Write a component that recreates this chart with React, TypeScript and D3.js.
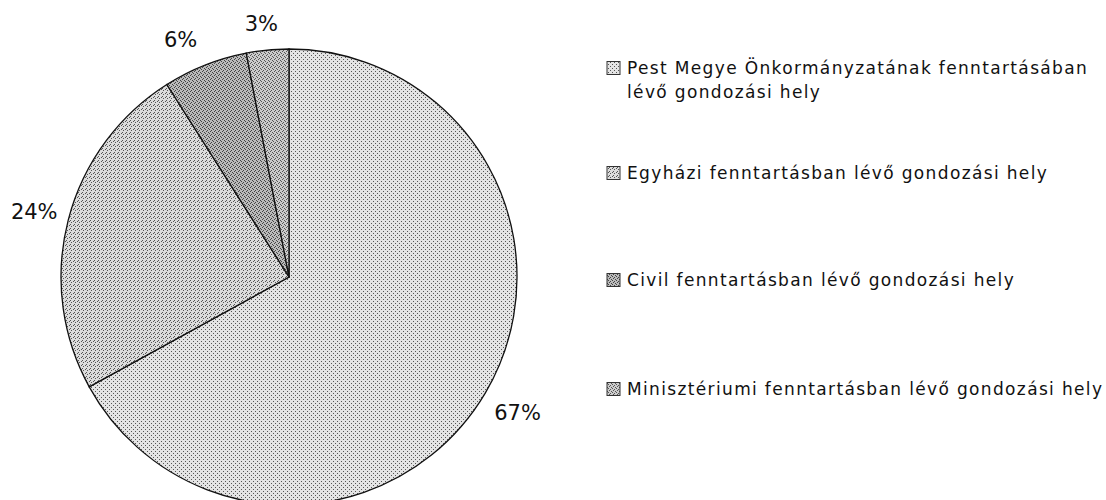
import React from 'react';
import * as d3 from 'd3';

// legend text, one row per line
const categories = [
  ['Pest Megye Önkormányzatának fenntartásában', 'lévő gondozási hely'],
  ['Egyházi fenntartásban lévő gondozási hely'],
  ['Civil fenntartásban lévő gondozási hely'],
  ['Minisztériumi fenntartásban lévő gondozási hely'],
];
const values = [67, 24, 6, 3];
const labels = ['67%', '24%', '6%', '3%'];

// dithered grey fills, a bit like the scanned original
const tiles = [
  { base: '#e4e4e4', dot: '#555', dots: [[0, 0], [2, 2]] },
  { base: '#dcdcdc', dot: '#555', dots: [[0, 0], [2, 1], [1, 3]] },
  { base: '#bbbbbb', dot: '#444', dots: [[0, 0], [2, 1], [1, 2], [3, 3]] },
  { base: '#cccccc', dot: '#555', dots: [[0, 0], [2, 1], [1, 2], [3, 3]] },
];

const W = 1106;
const H = 500;
const cx = 289;
const cy = 277;
const r = 228;
const labelR = 262;
// small shifts so the top labels sit like the original's
const nudge = [[3, 3], [-1, 0], [-12, 7], [-3, 8]];
const legendX = 607;
const legendY = [68, 173, 280, 389];

export default function App() {
  const pie = d3.pie<number>().sort(null).value(d => d);
  const arcs = pie(values);
  const arc = d3.arc<d3.PieArcDatum<number>>().innerRadius(0).outerRadius(r);
  const labelArc = d3.arc<d3.PieArcDatum<number>>().innerRadius(labelR).outerRadius(labelR);

  return (
    <svg width={W} height={H} style={{ position: 'absolute', left: 0, top: 0, background: '#fff' }}
      fontFamily="'DejaVu Sans', Verdana, sans-serif">
      <defs>
        {tiles.map((t, i) => (
          <pattern key={i} id={`fill-${i}`} width={4} height={4} patternUnits="userSpaceOnUse">
            <rect width={4} height={4} fill={t.base} />
            {t.dots.map(([x, y], j) => (
              <rect key={j} x={x} y={y} width={1} height={1} fill={t.dot} />
            ))}
          </pattern>
        ))}
      </defs>

      <g transform={`translate(${cx},${cy})`}>
        {arcs.map((a, i) => (
          <path key={i} d={arc(a) || ''} fill={`url(#fill-${i})`} stroke="#111" strokeWidth={1.3} />
        ))}
        {arcs.map((a, i) => {
          const [x, y] = labelArc.centroid(a);
          return (
            <text key={i} x={x + nudge[i][0]} y={y + nudge[i][1]} textAnchor="middle"
              dominantBaseline="central" fontSize={21} fill="#111">
              {labels[i]}
            </text>
          );
        })}
      </g>

      <g>
        {categories.map((lines, i) => (
          <g key={i}>
            <rect x={legendX} y={legendY[i] - 6.5} width={13} height={13}
              fill={`url(#fill-${i})`} stroke="#333" strokeWidth={1} />
            {lines.map((line, j) => (
              <text key={j} x={legendX + 20} y={legendY[i] + j * 24} dominantBaseline="central"
                fontSize={17} letterSpacing={1.35} fill="#111">
                {line}
              </text>
            ))}
          </g>
        ))}
      </g>
    </svg>
  );
}
